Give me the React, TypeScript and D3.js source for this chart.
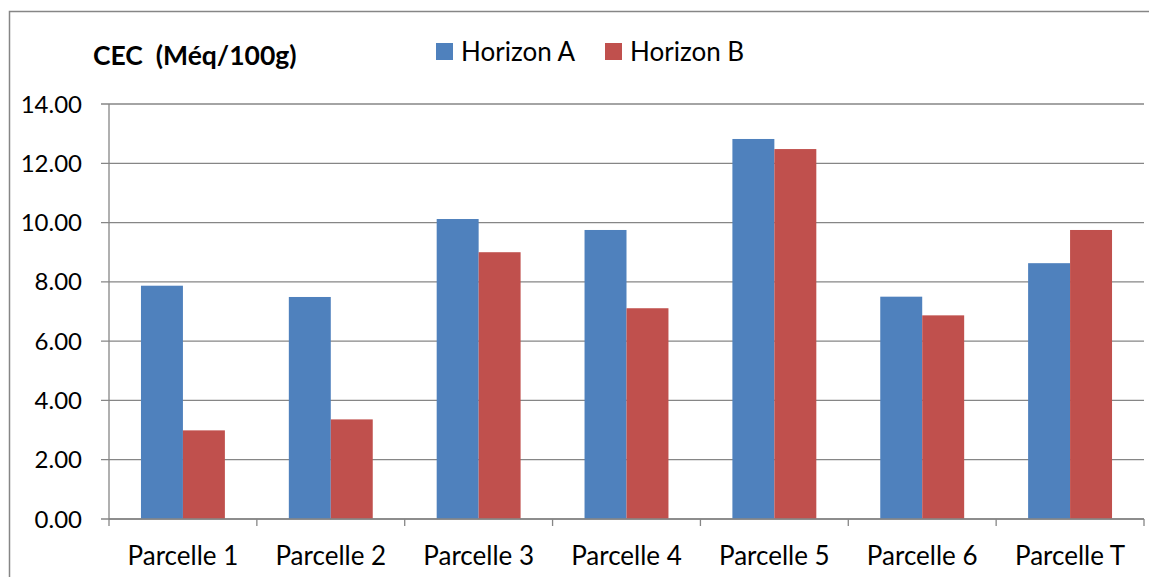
import React from "react";
import * as d3 from "d3";

const categories = ["Parcelle 1", "Parcelle 2", "Parcelle 3", "Parcelle 4", "Parcelle 5", "Parcelle 6", "Parcelle T"];
const seriesNames = ["Horizon A", "Horizon B"];
const horizonA = [7.87, 7.49, 10.12, 9.75, 12.82, 7.5, 8.63];
const horizonB = [2.99, 3.36, 9.0, 7.11, 12.48, 6.87, 9.75];
const yTicks = [0, 2, 4, 6, 8, 10, 12, 14];
const colors = ["#4F81BD", "#C0504D"];

const W = 1149;
const H = 577;
const plot = { left: 109, right: 1144, top: 104, bottom: 519 };
const FONT = "Lato, 'Open Sans', sans-serif";
const FS = 26;

export default function App() {
  const x0 = d3
    .scaleBand<string>()
    .domain(categories)
    .range([plot.left, plot.right])
    .paddingInner(64 / 148)
    .paddingOuter(32 / 148);
  const x1 = d3.scaleBand<string>().domain(seriesNames).range([0, x0.bandwidth()]);
  const y = d3.scaleLinear().domain([0, 14]).range([plot.bottom, plot.top]);
  const step = x0.step();
  const values = [horizonA, horizonB];

  return (
    <svg width={W} height={H} style={{ position: "absolute", left: 0, top: 0, background: "#fff" }}>
      <rect x={9.5} y={11.5} width={W + 10} height={H + 10} fill="#fff" stroke="#868686" strokeWidth={1.5} />

      {/* gridlines */}
      {yTicks.map((t) => (
        <line key={t} x1={plot.left - 8} x2={plot.right} y1={y(t)} y2={y(t)} stroke="#868686" strokeWidth={1.3} />
      ))}

      {/* bars */}
      {categories.map((c, i) => (
        <g key={c}>
          {seriesNames.map((s, j) => (
            <rect
              key={s}
              x={(x0(c) as number) + (x1(s) as number)}
              y={y(values[j][i])}
              width={x1.bandwidth()}
              height={plot.bottom - y(values[j][i])}
              fill={colors[j]}
            />
          ))}
        </g>
      ))}

      {/* y axis */}
      <line x1={plot.left} x2={plot.left} y1={plot.top} y2={plot.bottom} stroke="#868686" strokeWidth={1.3} />
      {yTicks.map((t) => (
        <text key={t} x={82} y={y(t)} dy="0.36em" textAnchor="end" fontFamily={FONT} fontSize={24} fill="#000">
          {t.toFixed(2)}
        </text>
      ))}

      {/* x axis */}
      <line x1={plot.left} x2={plot.right} y1={plot.bottom} y2={plot.bottom} stroke="#868686" strokeWidth={1.3} />
      {d3.range(categories.length + 1).map((k) => {
        const xx = plot.left + k * step;
        return <line key={k} x1={xx} x2={xx} y1={plot.bottom} y2={plot.bottom + 7} stroke="#868686" strokeWidth={1.3} />;
      })}
      {categories.map((c) => (
        <text key={c} x={(x0(c) as number) + x0.bandwidth() / 2} y={565} textAnchor="middle" fontFamily={FONT} fontSize={FS} fill="#000">
          {c}
        </text>
      ))}

      {/* title */}
      <text x={93} y={65} fontFamily={FONT} fontSize={26.5} fontWeight="bold" fill="#000" xmlSpace="preserve" style={{ whiteSpace: "pre" }}>
        {"CEC  (Méq/100g)"}
      </text>

      {/* legend */}
      {seriesNames.map((s, j) => {
        const lx = j === 0 ? 436 : 605;
        return (
          <g key={s}>
            <rect x={lx} y={43} width={17} height={17} fill={colors[j]} />
            <text x={lx + 25} y={61} fontFamily={FONT} fontSize={FS} fill="#000">
              {s}
            </text>
          </g>
        );
      })}
    </svg>
  );
}
